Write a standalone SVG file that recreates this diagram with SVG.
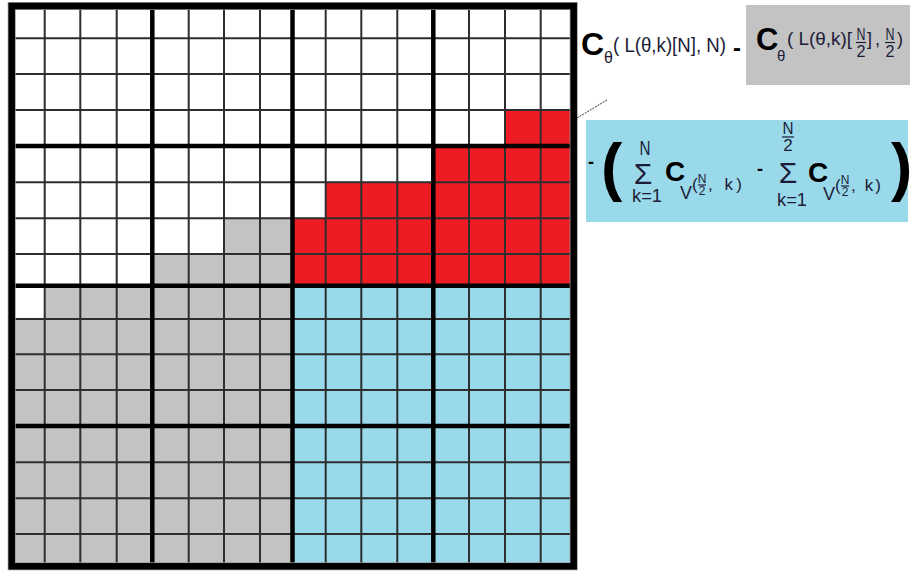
<svg xmlns="http://www.w3.org/2000/svg" width="911" height="571" viewBox="0 0 911 571">
<style>
.t{font-family:"Liberation Sans",Arial,sans-serif;fill:#1c1c38}
.b{font-family:"Liberation Sans",Arial,sans-serif;font-weight:bold;fill:#000}
.thin{stroke:#2e2e2e;stroke-width:2;fill:none}
.thick{stroke:#000;stroke-width:4.5;fill:none}
.bar{stroke:#1c1c38;stroke-width:1.2}
</style>
<rect width="911" height="571" fill="#fff"/>
<g id="grid">
  <rect x="11.7" y="6" width="562" height="560.3" fill="#fff"/>
  <polygon fill="#ed1c24" points="505,110 573.7,110 573.7,285.7 292.5,285.7 292.5,218.3 325.7,218.3 325.7,182.3 433.3,182.3 433.3,146 505,146"/>
  <polygon fill="#c3c3c3" points="224,218.3 292.5,218.3 292.5,566.3 11.7,566.3 11.7,319 44.7,319 44.7,285.7 152.3,285.7 152.3,254 224,254"/>
  <rect x="292.5" y="285.7" width="281.2" height="280.6" fill="#99d9ea"/>
  <path class="thin" d="M44.7 6V566.3M80.3 6V566.3M116.7 6V566.3M188.7 6V566.3M224 6V566.3M260 6V566.3M325.7 6V566.3M361.3 6V566.3M397.3 6V566.3M469 6V566.3M505 6V566.3M540.7 6V566.3M11.7 38.3H573.7M11.7 74H573.7M11.7 110H573.7M11.7 182.3H573.7M11.7 218.3H573.7M11.7 254H573.7M11.7 319H573.7M11.7 354.3H573.7M11.7 390H573.7M11.7 462.3H573.7M11.7 498.3H573.7M11.7 534H573.7"/>
  <path class="thick" d="M152.3 6V566.3M292.5 6V566.3M433.3 6V566.3M11.7 146H573.7M11.7 285.7H573.7M11.7 426H573.7"/>
  <rect x="11.7" y="6" width="562" height="560.3" fill="none" stroke="#999" stroke-width="8"/>
  <rect x="11.7" y="6" width="562" height="560.3" fill="none" stroke="#000" stroke-width="6.5"/>
</g>
<g id="connectors">
  <line x1="577" y1="118" x2="607" y2="100" stroke="#333" stroke-width="1" stroke-dasharray="2 1"/>
</g>
<g id="label-total">
  <text class="b" x="581" y="55" font-size="32">C</text>
  <text class="t" x="604" y="63" font-size="16">θ</text>
  <text class="t" x="613" y="52" font-size="21" textLength="113" lengthAdjust="spacingAndGlyphs">( L(θ,k)[N], N)</text>
  <text class="b" x="733" y="56" font-size="24">-</text>
</g>
<g id="box-gray">
  <rect x="746" y="5" width="164" height="80" fill="#c3c3c3"/>
  <text class="b" x="756" y="50" font-size="31">C</text>
  <text class="t" x="777" y="61" font-size="15">θ</text>
  <text class="t" x="787" y="45" font-size="18" textLength="65" lengthAdjust="spacingAndGlyphs">( L(θ,k)[</text>
  <text class="t" x="861" y="40" font-size="16" text-anchor="middle" textLength="9" lengthAdjust="spacingAndGlyphs">N</text>
  <line class="bar" x1="856" y1="42.5" x2="866" y2="42.5"/>
  <text class="t" x="861" y="57" font-size="16" text-anchor="middle" textLength="9" lengthAdjust="spacingAndGlyphs">2</text>
  <text class="t" x="867" y="45" font-size="18">]</text>
  <text class="t" x="875" y="45" font-size="18">,</text>
  <text class="t" x="890" y="40" font-size="16" text-anchor="middle" textLength="9" lengthAdjust="spacingAndGlyphs">N</text>
  <line class="bar" x1="885" y1="42.5" x2="895" y2="42.5"/>
  <text class="t" x="890" y="57" font-size="16" text-anchor="middle" textLength="9" lengthAdjust="spacingAndGlyphs">2</text>
  <text class="t" x="897" y="45" font-size="18">)</text>
</g>
<g id="box-blue">
  <rect x="586" y="120" width="322" height="102" fill="#99d9ea"/>
  <text class="b" x="588" y="168" font-size="18">-</text>
  <text class="b" x="601" y="189" font-size="64">(</text>
  <text class="t" x="645" y="155" font-size="20" text-anchor="middle" textLength="11" lengthAdjust="spacingAndGlyphs">N</text>
  <text class="t" x="643" y="184" font-size="30" text-anchor="middle">Σ</text>
  <text class="t" x="647" y="202" font-size="19" text-anchor="middle" textLength="30" lengthAdjust="spacingAndGlyphs">k=1</text>
  <text class="b" x="665" y="181" font-size="28">C</text>
  <text class="t" x="680" y="199" font-size="18">V</text>
  <text class="t" x="692" y="190" font-size="17">(</text>
  <text class="t" x="702" y="183" font-size="12" text-anchor="middle">N</text>
  <line class="bar" x1="698" y1="185" x2="706" y2="185"/>
  <text class="t" x="702" y="195" font-size="12" text-anchor="middle">2</text>
  <text class="t" x="708" y="190" font-size="17" textLength="34" lengthAdjust="spacing">, k)</text>
  <text class="b" x="757" y="175" font-size="18">-</text>
  <text class="t" x="788" y="134" font-size="17" text-anchor="middle" textLength="11" lengthAdjust="spacingAndGlyphs">N</text>
  <line class="bar" x1="782" y1="137" x2="794" y2="137"/>
  <text class="t" x="788" y="151" font-size="17" text-anchor="middle">2</text>
  <text class="t" x="788" y="183" font-size="30" text-anchor="middle">Σ</text>
  <text class="t" x="792" y="206" font-size="19" text-anchor="middle" textLength="30" lengthAdjust="spacingAndGlyphs">k=1</text>
  <text class="b" x="808" y="182" font-size="28">C</text>
  <text class="t" x="823" y="200" font-size="18">V</text>
  <text class="t" x="835" y="191" font-size="17">(</text>
  <text class="t" x="845" y="184" font-size="12" text-anchor="middle">N</text>
  <line class="bar" x1="841" y1="186" x2="849" y2="186"/>
  <text class="t" x="845" y="196" font-size="12" text-anchor="middle">2</text>
  <text class="t" x="851" y="191" font-size="17" textLength="30" lengthAdjust="spacing">, k)</text>
  <text class="b" x="891" y="189" font-size="64">)</text>
</g>
</svg>
